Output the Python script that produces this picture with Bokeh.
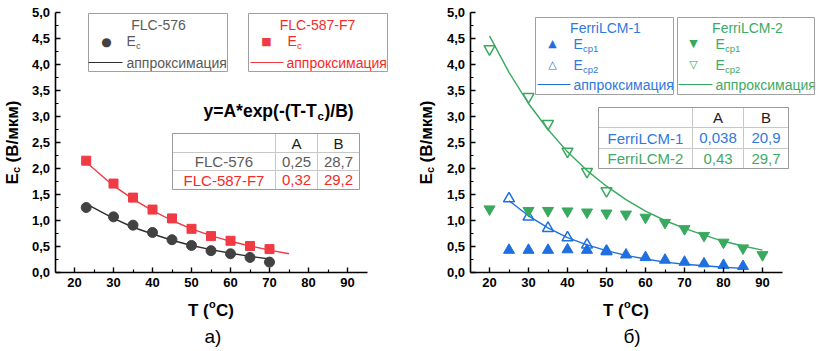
import math
from bokeh.plotting import figure
from bokeh.models import Label, BoxAnnotation, FixedTicker, CustomJSTickFormatter, Range1d
from bokeh.layouts import row
from bokeh.embed import file_html
from bokeh.resources import INLINE

FONT = "Liberation Sans"
SYM = "DejaVu Sans"

# ---------------- data: panel a) ----------------
T_576 = [23, 30, 35, 40, 45, 50, 55, 60, 65, 70]
Ec_576 = [1.25, 1.07, 0.91, 0.77, 0.63, 0.52, 0.42, 0.36, 0.29, 0.20]
T_587 = [23, 30, 35, 40, 45, 50, 55, 60, 65, 70]
Ec_587 = [2.15, 1.71, 1.44, 1.21, 1.04, 0.84, 0.70, 0.61, 0.51, 0.45]
Tfit_576 = [23, 30, 35, 40, 45, 50, 55, 60, 65, 70]
fit_576 = [1.32, 1.04, 0.87, 0.74, 0.62, 0.52, 0.44, 0.37, 0.31, 0.26]
Tfit_587 = [23, 30, 35, 40, 45, 50, 55, 60, 65, 70, 75]
fit_587 = [2.12, 1.67, 1.41, 1.19, 1.00, 0.84, 0.71, 0.60, 0.51, 0.43, 0.36]
table_a_rows = ["FLC-576", "FLC-587-F7"]
table_a_A = ["0,25", "0,32"]
table_a_B = ["28,7", "29,2"]

# ---------------- data: panel б) ----------------
T_f1_cp1 = [25, 30, 35, 40, 45, 50, 55, 60, 65, 70, 75, 80, 85]
Ecp1_f1 = [0.43, 0.43, 0.43, 0.44, 0.43, 0.40, 0.34, 0.29, 0.24, 0.20, 0.17, 0.14, 0.12]
T_f1_cp2 = [25, 30, 35, 40, 45, 50]
Ecp2_f1 = [1.42, 1.07, 0.85, 0.67, 0.53, 0.41]
Tfit_f1 = [25, 30, 35, 40, 45, 50, 55, 60, 65, 70, 75, 80, 85]
fit_f1 = [1.38, 1.09, 0.86, 0.67, 0.53, 0.42, 0.33, 0.26, 0.20, 0.16, 0.13, 0.10, 0.08]
T_f2_cp1 = [20, 30, 35, 40, 45, 50, 55, 60, 65, 70, 75, 80, 85, 90]
Ecp1_f2 = [1.22, 1.19, 1.19, 1.18, 1.16, 1.14, 1.12, 1.06, 0.96, 0.84, 0.71, 0.58, 0.47, 0.34]
T_f2_cp2 = [20, 30, 35, 40, 45, 50]
Ecp2_f2 = [4.30, 3.38, 2.86, 2.33, 1.94, 1.57]
Tfit_f2 = [20, 25, 30, 35, 40, 45, 50, 55, 60, 65, 70, 75, 80, 85, 90]
fit_f2 = [4.55, 3.85, 3.25, 2.75, 2.32, 1.96, 1.66, 1.40, 1.18, 1.00, 0.85, 0.72, 0.60, 0.51, 0.43]
table_b_rows = ["FerriLCM-1", "FerriLCM-2"]
table_b_A = ["0,038", "0,43"]
table_b_B = ["20,9", "29,7"]

# ---------------- axes ----------------
X_AXIS = (15, 95)
Y_AXIS = (0, 5)
X_TICKS = [20, 30, 40, 50, 60, 70, 80, 90]
X_MINOR = [25, 35, 45, 55, 65, 75, 85]
Y_TICKS = [0, 0.5, 1.0, 1.5, 2.0, 2.5, 3.0, 3.5, 4.0, 4.5, 5.0]
Y_MINOR = [0.25, 0.75, 1.25, 1.75, 2.25, 2.75, 3.25, 3.75, 4.25, 4.75]

GREY_M = "#424242"; GREY_L = "#2e2e2e"; GREY_T = "#5a5a5a"
RED = "#f03a44"; RED_T = "#f52a2a"
BLUE = "#1f6fe0"; BLUE_T = "#2f78e0"
GREEN = "#38a95e"; GREEN_T = "#3daa64"
TXT = "#1a1a1a"

# layout (pixels)
H = 351
FIG_W = 408
AX_W = 312          # length of x axis in px
AX_H = 260          # length of y axis in px
AX_TOP = 12         # page y of y-axis top
PXU_X = AX_W / (X_AXIS[1] - X_AXIS[0])
PXU_Y = AX_H / (Y_AXIS[1] - Y_AXIS[0])
AX_BOTTOM = AX_TOP + AX_H


def make_fig(fig_off, axis_left_px):
    loc = axis_left_px - fig_off
    xr = Range1d(X_AXIS[0] - loc / PXU_X, X_AXIS[0] + (FIG_W - loc) / PXU_X)
    yr = Range1d(Y_AXIS[0] - (H - AX_BOTTOM) / PXU_Y, Y_AXIS[1] + AX_TOP / PXU_Y)
    p = figure(width=FIG_W, height=H, x_range=xr, y_range=yr,
               output_backend="svg", toolbar_location=None,
               min_border_left=0, min_border_right=0,
               min_border_top=0, min_border_bottom=0)
    p.outline_line_color = None
    p.grid.visible = False
    p.background_fill_color = "white"
    p.border_fill_color = "white"
    p.xaxis.fixed_location = Y_AXIS[0]
    p.yaxis.fixed_location = X_AXIS[0]
    p.xaxis.bounds = X_AXIS
    p.yaxis.bounds = Y_AXIS
    for ax in (p.xaxis, p.yaxis):
        ax.axis_line_width = 1.6
        ax.axis_line_color = "black"
        ax.major_tick_in = 5
        ax.major_tick_out = 0
        ax.minor_tick_in = 3
        ax.minor_tick_out = 0
        ax.major_tick_line_width = 1.4
        ax.minor_tick_line_width = 1.2
        ax.major_tick_line_color = "black"
        ax.minor_tick_line_color = "black"
        ax.major_label_text_font = FONT
        ax.major_label_text_font_style = "bold"
        ax.major_label_text_font_size = "13px"
        ax.major_label_text_color = "black"
        ax.major_label_standoff = 5
    p.xaxis.ticker = FixedTicker(ticks=X_TICKS, minor_ticks=X_MINOR)
    p.yaxis.ticker = FixedTicker(ticks=Y_TICKS, minor_ticks=Y_MINOR)
    p.yaxis.formatter = CustomJSTickFormatter(code="return tick.toFixed(1).replace('.', ',');")
    p.xaxis.formatter = CustomJSTickFormatter(code="return tick.toFixed(0);")
    return p


class Pan:
    def __init__(self, p, axis_left_px):
        self.p = p
        self.ax = axis_left_px

    def dx(self, px):
        return X_AXIS[0] + (px - self.ax) / PXU_X

    def dy(self, py):
        return Y_AXIS[0] + (AX_BOTTOM - py) / PXU_Y

    def text(self, px, py, s, size, color, bold=False, align="left",
             baseline="middle", angle=0, font=FONT):
        self.p.add_layout(Label(x=self.dx(px), y=self.dy(py), text=s, text_font=font,
                                text_font_size=f"{size}px", text_color=color,
                                text_font_style="bold" if bold else "normal",
                                text_align=align, text_baseline=baseline, angle=angle))

    def box(self, x1, y1, x2, y2, line_color=None, fill_color=None, lw=1):
        self.p.add_layout(BoxAnnotation(left=self.dx(x1), right=self.dx(x2),
                                        top=self.dy(y1), bottom=self.dy(y2),
                                        line_color=line_color, line_alpha=1 if line_color else 0,
                                        line_width=lw, line_dash="solid",
                                        fill_color=fill_color, fill_alpha=1 if fill_color else 0,
                                        level="overlay"))

    def legend_box(self, x1, y1, x2, y2):
        self.box(x1, y1, x2, y2, line_color="#a0a0a0")

    def sub_text(self, px, py, main, sub, size, color, wmain):
        self.text(px, py, main, size, color)
        self.text(px + wmain, py + 5, sub, round(size * 0.68, 1), color)

    def table(self, x1, y1, xs, ys, x2, y2, header, rows, colA, colB, colors):
        for yy in ys:
            self.box(x1, yy - 0.5, x2, yy + 0.5, fill_color="#c8c8c8")
        for xx in xs:
            self.box(xx - 0.5, y1, xx + 0.5, y2, fill_color="#c8c8c8")
        self.box(x1, y1, x2, y2, line_color="#9a9a9a")
        cx = [(x1 + xs[0]) / 2, (xs[0] + xs[1]) / 2, (xs[1] + x2) / 2]
        cy = [(y1 + ys[0]) / 2, (ys[0] + ys[1]) / 2, (ys[1] + y2) / 2]
        self.text(cx[1], cy[0], header[0], 15, TXT, align="center")
        self.text(cx[2], cy[0], header[1], 15, TXT, align="center")
        for i in range(2):
            self.text(cx[0], cy[i + 1], rows[i], 15, colors[i], align="center")
            self.text(cx[1], cy[i + 1], colA[i], 15, colors[i], align="center")
            self.text(cx[2], cy[i + 1], colB[i], 15, colors[i], align="center")

    def axis_titles(self, ylab_x, cap, cap_dx):
        frame_cx = self.ax + AX_W / 2
        # y label: E_c (В/мкм), rotated
        y0 = 184
        self.text(ylab_x, y0, "E", 17, "black", bold=True, baseline="alphabetic", angle=math.pi / 2)
        self.text(ylab_x + 4, y0 - 11.5, "c", 11, "black", bold=True, baseline="alphabetic", angle=math.pi / 2)
        self.text(ylab_x, y0 - 22, "(В/мкм)", 17, "black", bold=True, baseline="alphabetic", angle=math.pi / 2)
        # x label: T (oC)
        xs = frame_cx - 23
        self.text(xs, 310, "T (", 17, "black", bold=True, baseline="alphabetic")
        self.text(xs + 21, 303, "o", 11, "black", bold=True, baseline="alphabetic")
        self.text(xs + 28, 310, "C)", 17, "black", bold=True, baseline="alphabetic")
        # caption
        self.text(frame_cx + cap_dx, 336, cap, 19, "black", align="center", baseline="alphabetic")


# ================= panel a) =================
A_LEFT = 54.5
pa = make_fig(0, A_LEFT)
pa.line(Tfit_576, fit_576, line_color=GREY_L, line_width=1.4)
pa.line(Tfit_587, fit_587, line_color=RED, line_width=1.4)
pa.scatter(T_576, Ec_576, marker="circle", size=10, fill_color=GREY_M, line_color=GREY_M)
pa.scatter(T_587, Ec_587, marker="square", size=9, fill_color=RED, line_color=RED)

A = Pan(pa, A_LEFT)
A.axis_titles(11.5, "а)", 2)
# legends
A.legend_box(88, 13, 227, 71)
A.text(158, 24, "FLC-576", 14, GREY_T, align="center")
A.text(106, 41, "●", 12, GREY_M, align="center", font=SYM)
A.sub_text(126, 40, "E", "c", 14, GREY_T, 9.5)
A.box(88, 61.5, 122, 62.5, fill_color=GREY_L)
A.text(126, 62, "аппроксимация", 14, GREY_T)

A.legend_box(248, 13, 387, 71)
A.text(317, 24, "FLC-587-F7", 14, RED_T, align="center")
A.text(266, 41, "■", 11, RED, align="center", font=SYM)
A.sub_text(287, 40, "E", "c", 14, RED_T, 9.5)
A.box(250, 61.5, 283, 62.5, fill_color=RED)
A.text(286, 62, "аппроксимация", 14, RED_T)

# formula
A.text(203, 110, "y=A*exp(-(T-T", 17.5, "black", bold=True)
A.text(317, 115, "c", 11.5, "black", bold=True)
A.text(324, 110, ")/B)", 17.5, "black", bold=True)

A.table(172, 133, [275, 317], [152, 170], 359, 189, ["A", "B"],
        table_a_rows, table_a_A, table_a_B, [GREY_T, RED_T])

# ================= panel б) =================
B_LEFT = 469.5
pb = make_fig(FIG_W, B_LEFT)
pb.line(Tfit_f1, fit_f1, line_color=BLUE, line_width=1.4)
pb.line(Tfit_f2, fit_f2, line_color=GREEN, line_width=1.4)
pb.scatter(T_f1_cp1, Ecp1_f1, marker="triangle", size=11, fill_color=BLUE, line_color=BLUE)
pb.scatter(T_f1_cp2, Ecp2_f1, marker="triangle", size=11, fill_alpha=0, line_color=BLUE, line_width=1.5)
pb.scatter(T_f2_cp1, Ecp1_f2, marker="inverted_triangle", size=11, fill_color=GREEN, line_color=GREEN)
pb.scatter(T_f2_cp2, Ecp2_f2, marker="inverted_triangle", size=11, fill_alpha=0, line_color=GREEN, line_width=1.5)

B = Pan(pb, B_LEFT)
B.axis_titles(425.5, "б)", 6)

B.legend_box(535, 17, 673, 94)
B.text(605, 27, "FerriLCM-1", 14, BLUE_T, align="center")
B.text(552, 43, "▲", 11, BLUE, align="center", font=SYM)
B.sub_text(573, 43, "E", "cp1", 14, BLUE_T, 9.5)
B.text(552, 64, "△", 11, BLUE, align="center", font=SYM)
B.sub_text(573, 64, "E", "cp2", 14, BLUE_T, 9.5)
B.box(537, 83.5, 570, 84.5, fill_color=BLUE)
B.text(573, 84, "аппроксимация", 14, BLUE_T)

B.legend_box(677, 17, 814, 94)
B.text(747, 27, "FerriLCM-2", 14, GREEN_T, align="center")
B.text(693, 43, "▼", 11, GREEN, align="center", font=SYM)
B.sub_text(715, 43, "E", "cp1", 14, GREEN_T, 9.5)
B.text(693, 64, "▽", 11, GREEN, align="center", font=SYM)
B.sub_text(715, 64, "E", "cp2", 14, GREEN_T, 9.5)
B.box(678, 83.5, 712, 84.5, fill_color=GREEN)
B.text(715, 84, "аппроксимация", 14, GREEN_T)

B.table(598, 107, [692, 743], [127, 148], 788, 168, ["A", "B"],
        table_b_rows, table_b_A, table_b_B, [BLUE_T, GREEN_T])

layout = row(pa, pb)
open("out.html", "w").write(file_html(layout, INLINE))
